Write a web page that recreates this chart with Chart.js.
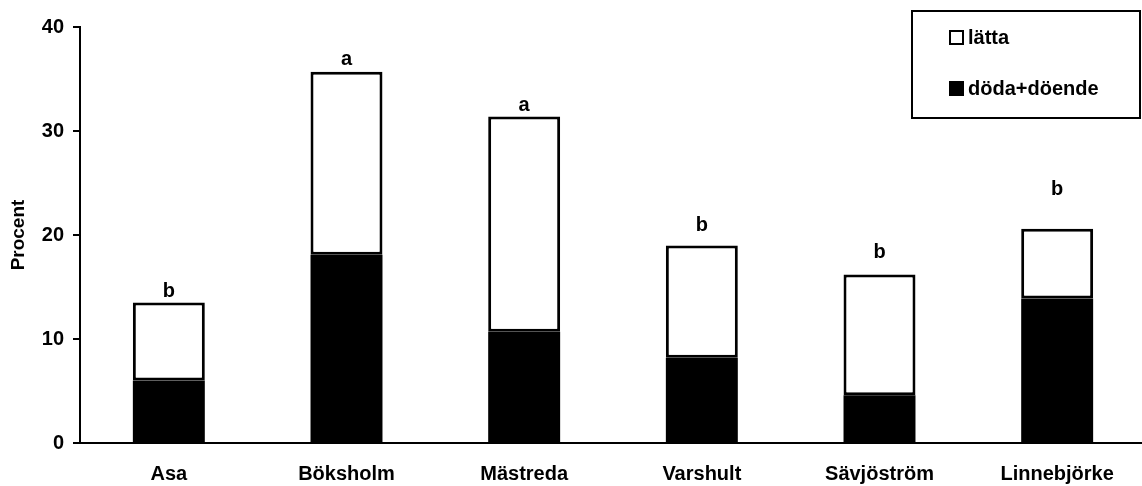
<!DOCTYPE html>
<html>
<head>
<meta charset="utf-8">
<script src="https://cdn.jsdelivr.net/npm/chart.js@4"></script>
<style>
  html, body { margin: 0; padding: 0; background: #fff; overflow: hidden; }
  #wrap { width: 1146px; height: 486px; position: relative; }
</style>
</head>
<body>
<div id="wrap"><canvas id="barChart"></canvas></div>
<script>
const sites = ['Asa', 'Böksholm', 'Mästreda', 'Varshult', 'Sävjöström', 'Linnebjörke'];
const dead = [6.0, 18.1, 10.7, 8.2, 4.6, 13.9];   // döda+döende
const light = [7.5, 17.6, 20.7, 10.8, 11.6, 6.7]; // lätta
const letters = ['b', 'a', 'a', 'b', 'b', 'b'];
const letterY = [14.6, 36.9, 32.5, 20.9, 18.3, 24.4];
const yTicks = [0, 10, 20, 30, 40];

const FONT = '"Liberation Sans", Arial, sans-serif';

// letters above the bars
const letterPlugin = {
  id: 'letters',
  afterDatasetsDraw(chart) {
    const ctx = chart.ctx;
    const x = chart.scales.x, y = chart.scales.y;
    ctx.save();
    ctx.font = 'bold 20px ' + FONT;
    ctx.fillStyle = '#000';
    ctx.textAlign = 'center';
    ctx.textBaseline = 'middle';
    for (let i = 0; i < letters.length; i++) {
      ctx.fillText(letters[i], x.getPixelForValue(i), y.getPixelForValue(letterY[i]));
    }
    ctx.restore();
  }
};

// boxed legend top right
const boxLegend = {
  id: 'boxLegend',
  afterDraw(chart) {
    const ctx = chart.ctx;
    ctx.save();
    ctx.lineWidth = 2;
    ctx.strokeStyle = '#000';
    ctx.strokeRect(912, 11, 228, 107);
    // lätta
    ctx.fillStyle = '#fff';
    ctx.fillRect(950, 31, 13, 13);
    ctx.strokeRect(950, 31, 13, 13);
    // döda+döende
    ctx.fillStyle = '#000';
    ctx.fillRect(949, 81, 15, 15);
    ctx.font = 'bold 20px ' + FONT;
    ctx.textBaseline = 'middle';
    ctx.textAlign = 'left';
    ctx.fillText('lätta', 968, 38);
    ctx.fillText('döda+döende', 968, 89);
    ctx.restore();
  }
};

new Chart(document.getElementById('barChart'), {
  type: 'bar',
  data: {
    labels: sites,
    datasets: [{
      label: 'döda+döende',
      data: dead,
      backgroundColor: '#000',
      borderColor: '#000',
      borderWidth: 0
    }, {
      label: 'lätta',
      data: light,
      backgroundColor: '#fff',
      borderColor: '#000',
      borderWidth: 3,
      borderSkipped: false
    }]
  },
  options: {
    responsive: true,
    maintainAspectRatio: false,
    animation: false,
    layout: { padding: { top: 27, right: 0, left: 0, bottom: 0 } },
    datasets: { bar: { categoryPercentage: 1.0, barPercentage: 0.405 } },
    plugins: { legend: { display: false }, tooltip: { enabled: false } },
    scales: {
      x: {
        stacked: true,
        grid: { display: false },
        border: { display: true, color: '#000', width: 2 },
        ticks: { color: '#000', font: { family: FONT, size: 20, weight: 'bold' }, padding: 11, maxRotation: 0 },
        afterFit(s) { s.height = 43; }
      },
      y: {
        stacked: true,
        min: 0,
        max: 40,
        afterBuildTicks(s) { s.ticks = yTicks.map(v => ({ value: v })); },
        grid: { display: true, drawOnChartArea: false, drawTicks: true, tickLength: 7, color: '#000', lineWidth: 2 },
        border: { display: true, color: '#000', width: 2 },
        ticks: { color: '#000', font: { family: FONT, size: 20, weight: 'bold' }, padding: 9 },
        title: { display: true, text: 'Procent', color: '#000', font: { family: FONT, size: 19, weight: 'bold' }, padding: { top: 7, bottom: 0 } },
        afterFit(s) { s.width = 80; }
      }
    }
  },
  plugins: [letterPlugin, boxLegend]
});
</script>
</body>
</html>
